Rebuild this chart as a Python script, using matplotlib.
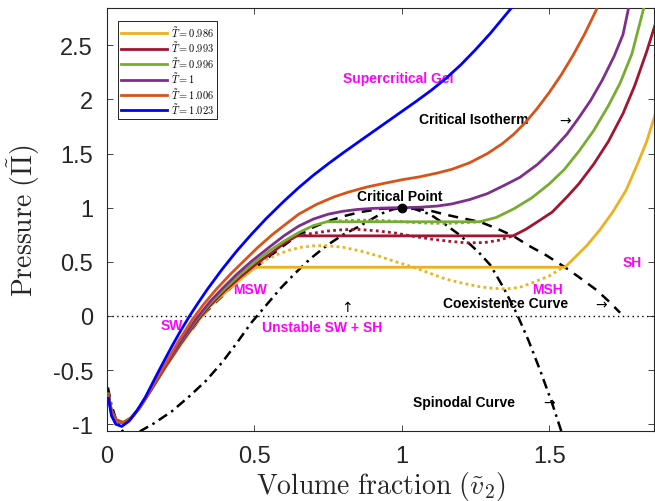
import matplotlib
matplotlib.use('Agg')
import matplotlib.pyplot as plt
from matplotlib.ticker import FuncFormatter

plt.rcParams['font.family'] = ['Liberation Sans', 'DejaVu Sans']
plt.rcParams['mathtext.fontset'] = 'cm'
plt.rcParams['axes.unicode_minus'] = False

# ── Isotherms (v2, Pi) ─────────────────────────────────────────
v_0986 = [0.005, 0.015, 0.03, 0.055, 0.08, 0.11, 0.15, 0.20, 0.25, 0.30, 0.35, 0.40,
          0.44, 0.475, 0.505, 1.553, 1.59, 1.627, 1.67, 1.715, 1.76, 1.797, 1.83, 1.86]
p_0986 = [-0.72, -0.87, -0.955, -0.98, -0.94, -0.85, -0.68, -0.47, -0.265, -0.075, 0.09, 0.215,
          0.31, 0.39, 0.45, 0.45, 0.55, 0.65, 0.79, 0.96, 1.16, 1.39, 1.61, 1.87]
v_0986_loop = [0.505, 0.54, 0.58, 0.62, 0.66, 0.70, 0.74, 0.80, 0.86, 0.925, 0.98, 1.04, 1.10,
               1.15, 1.21, 1.264, 1.31, 1.356, 1.40, 1.445, 1.50, 1.547]
p_0986_loop = [0.45, 0.52, 0.57, 0.61, 0.635, 0.648, 0.65, 0.635, 0.60, 0.55, 0.50, 0.45, 0.39,
               0.34, 0.30, 0.27, 0.255, 0.25, 0.265, 0.31, 0.37, 0.45]

v_0993 = [0.005, 0.015, 0.03, 0.055, 0.08, 0.11, 0.15, 0.20, 0.25, 0.30, 0.35, 0.40, 0.45,
          0.51, 0.56, 0.60, 0.644, 1.377, 1.42, 1.46, 1.51, 1.56, 1.60, 1.65, 1.70, 1.75,
          1.79, 1.83, 1.86]
p_0993 = [-0.73, -0.88, -0.96, -0.985, -0.945, -0.85, -0.68, -0.46, -0.255, -0.065, 0.10, 0.235,
          0.355, 0.49, 0.585, 0.67, 0.74, 0.74, 0.80, 0.87, 0.96, 1.10, 1.22, 1.40, 1.61, 1.87,
          2.13, 2.44, 2.70]
v_0993_loop = [0.644, 0.70, 0.75, 0.80, 0.85, 0.92, 0.98, 1.04, 1.10, 1.16, 1.22, 1.28, 1.33, 1.377]
p_0993_loop = [0.74, 0.765, 0.785, 0.797, 0.80, 0.785, 0.765, 0.735, 0.71, 0.69, 0.675, 0.678,
               0.70, 0.74]

v_0996 = [0.005, 0.015, 0.03, 0.055, 0.08, 0.11, 0.15, 0.20, 0.25, 0.30, 0.35, 0.40, 0.45,
          0.50, 0.55, 0.60, 0.65, 0.70, 0.745, 1.264, 1.32, 1.38, 1.44, 1.50, 1.55, 1.60, 1.65,
          1.70, 1.74, 1.78, 1.82]
p_0996 = [-0.73, -0.88, -0.96, -0.99, -0.95, -0.85, -0.68, -0.45, -0.24, -0.045, 0.12, 0.255,
          0.38, 0.495, 0.60, 0.69, 0.77, 0.835, 0.87, 0.87, 0.91, 0.99, 1.09, 1.22, 1.35, 1.52,
          1.71, 1.94, 2.15, 2.42, 2.84]
v_0996_loop = [0.745, 0.80, 0.85, 0.90, 0.95, 1.00, 1.05, 1.10, 1.15, 1.20, 1.264]
p_0996_loop = [0.87, 0.88, 0.885, 0.885, 0.88, 0.87, 0.862, 0.857, 0.855, 0.86, 0.87]

v_1000 = [0.005, 0.015, 0.03, 0.055, 0.08, 0.11, 0.15, 0.20, 0.25, 0.30, 0.35, 0.39, 0.44,
          0.49, 0.55, 0.60, 0.65, 0.70, 0.75, 0.80, 0.85, 0.90, 0.95, 1.00, 1.06, 1.12, 1.17,
          1.23, 1.29, 1.35, 1.40, 1.46, 1.51, 1.56, 1.60, 1.64, 1.68, 1.72, 1.75, 1.77]
p_1000 = [-0.73, -0.88, -0.96, -0.99, -0.95, -0.85, -0.68, -0.45, -0.235, -0.035, 0.135, 0.25,
          0.385, 0.505, 0.635, 0.74, 0.83, 0.895, 0.94, 0.967, 0.984, 0.993, 0.998, 1.0, 1.004,
          1.015, 1.035, 1.075, 1.13, 1.21, 1.28, 1.40, 1.53, 1.68, 1.83, 1.99, 2.18, 2.40, 2.60,
          2.86]

v_1006 = [0.005, 0.015, 0.03, 0.055, 0.08, 0.11, 0.15, 0.19, 0.24, 0.29, 0.33, 0.37, 0.42,
          0.465, 0.51, 0.56, 0.60, 0.65, 0.71, 0.77, 0.82, 0.88, 0.94, 1.00, 1.06, 1.12, 1.17,
          1.23, 1.29, 1.34, 1.38, 1.42, 1.46, 1.50, 1.54, 1.58, 1.62, 1.66]
p_1006 = [-0.74, -0.89, -0.97, -0.99, -0.95, -0.85, -0.67, -0.48, -0.245, -0.03, 0.115, 0.245,
          0.39, 0.51, 0.63, 0.75, 0.835, 0.94, 1.03, 1.10, 1.145, 1.19, 1.225, 1.258, 1.285,
          1.32, 1.355, 1.415, 1.50, 1.59, 1.68, 1.79, 1.92, 2.065, 2.225, 2.405, 2.605, 2.83]

v_1023 = [0.005, 0.015, 0.03, 0.05, 0.075, 0.10, 0.13, 0.175, 0.22, 0.25, 0.28, 0.31, 0.34,
          0.39, 0.44, 0.49, 0.54, 0.60, 0.65, 0.70, 0.75, 0.80, 0.87, 0.93, 0.99, 1.05, 1.10,
          1.15, 1.20, 1.25, 1.30, 1.37]
p_1023 = [-0.76, -0.92, -1.0, -1.02, -0.97, -0.88, -0.75, -0.51, -0.28, -0.135, 0.0, 0.125,
          0.245, 0.43, 0.60, 0.755, 0.90, 1.06, 1.185, 1.30, 1.405, 1.505, 1.64, 1.755, 1.87,
          1.985, 2.085, 2.195, 2.32, 2.46, 2.61, 2.84]

# coexistence (binodal) and spinodal loci
v_coex = [0.29, 0.322, 0.37, 0.42, 0.46, 0.505, 0.58, 0.644, 0.70, 0.745, 0.80, 0.86, 0.93,
          1.0, 1.05, 1.10, 1.15, 1.20, 1.264, 1.32, 1.377, 1.43, 1.49, 1.553, 1.60, 1.66,
          1.70, 1.74]
p_coex = [-0.12, 0.0, 0.13, 0.26, 0.36, 0.45, 0.61, 0.74, 0.82, 0.87, 0.92, 0.96, 0.99,
          1.0, 0.99, 0.97, 0.935, 0.905, 0.87, 0.81, 0.74, 0.65, 0.56, 0.45, 0.36, 0.24,
          0.14, 0.03]
v_spin = [0.003, 0.015, 0.03, 0.045, 0.06, 0.08, 0.10, 0.115, 0.16, 0.22, 0.28, 0.335, 0.39,
          0.44, 0.49, 0.54, 0.59, 0.64, 0.69, 0.745, 0.80, 0.85, 0.93, 0.97, 1.0, 1.04, 1.095,
          1.15, 1.19, 1.22, 1.26, 1.30, 1.345, 1.39, 1.43, 1.47, 1.51, 1.545]
p_spin = [-0.66, -0.82, -0.95, -1.03, -1.09, -1.12, -1.10, -1.06, -0.99, -0.88, -0.74, -0.60,
          -0.43, -0.25, -0.06, 0.10, 0.26, 0.40, 0.53, 0.65, 0.75, 0.82, 0.945, 0.985, 1.0, 0.99,
          0.94, 0.84, 0.76, 0.69, 0.59, 0.47, 0.26, 0.02, -0.23, -0.51, -0.81, -1.10]

crit_v, crit_p = 1.0, 1.0

temps = ['0.986', '0.993', '0.996', '1', '1.006', '1.023']
colors = ['#EDB120', '#A2142F', '#77AC30', '#7E2F8E', '#D95319', '#0000FF']
curves = [(v_0986, p_0986), (v_0993, p_0993), (v_0996, p_0996),
          (v_1000, p_1000), (v_1006, p_1006), (v_1023, p_1023)]
loops = [(v_0986_loop, p_0986_loop), (v_0993_loop, p_0993_loop), (v_0996_loop, p_0996_loop)]

AX_COL = '#262626'
MAG = '#FF00FF'

fig = plt.figure(figsize=(6.55, 5.02), dpi=100)
ax = fig.add_axes([107 / 655, 70 / 502, 547 / 655, 423 / 502])

ax.axhline(0, color='black', lw=1.0, ls=(0, (1, 2.5)), zorder=1)
ax.plot(v_coex, p_coex, color='black', lw=1.8, ls=(0, (4, 3)), zorder=2)
ax.plot(v_spin, p_spin, color='black', lw=1.8, ls=(0, (4, 2, 1, 2)), zorder=2)

for (v, p), col in zip(loops, colors[:3]):
    ax.plot(v, p, color=col, lw=2.0, ls=(0, (1, 1.2)), zorder=3)
for (v, p), col, t in zip(curves, colors, temps):
    ax.plot(v, p, color=col, lw=2.0, zorder=4, label=r'$\tilde{T} = %s$' % t)

ax.plot([crit_v], [crit_p], 'o', color='black', ms=6, zorder=6)

# annotations
bold = dict(fontsize=10, fontweight='bold', va='center', ha='left')
ax.text(0.80, 2.20, 'Supercritical Gel', color=MAG, **bold)
ax.text(1.058, 1.82, 'Critical Isotherm', color='black', **bold)
ax.text(0.847, 1.11, 'Critical Point', color='black', **bold)
ax.text(0.427, 0.25, 'MSW', color=MAG, **bold)
ax.text(0.18, -0.08, 'SW', color=MAG, **bold)
ax.text(0.525, -0.10, 'Unstable SW + SH', color=MAG, **bold)
ax.text(1.44, 0.25, 'MSH', color=MAG, **bold)
ax.text(1.75, 0.50, 'SH', color=MAG, **bold)
ax.text(1.14, 0.12, 'Coexistence Curve', color='black', **bold)
ax.text(1.037, -0.79, 'Spinodal Curve', color='black', **bold)
arrow = dict(fontsize=10, va='center', ha='center', color='black', family='DejaVu Sans')
ax.text(1.555, 1.81, '\u2192', **arrow)
ax.text(1.675, 0.11, '\u2192', **arrow)
ax.text(1.50, -0.80, '\u2192', **arrow)
ax.text(0.813, 0.085, '\u2191', **arrow)

ax.set_xlim(0, 1.855)
ax.set_ylim(-1.062, 2.844)
ax.set_xticks([0, 0.5, 1, 1.5])
ax.set_yticks([-1, -0.5, 0, 0.5, 1, 1.5, 2, 2.5])
fmt = FuncFormatter(lambda val, pos: f'{val:g}')
ax.xaxis.set_major_formatter(fmt)
ax.yaxis.set_major_formatter(fmt)
ax.tick_params(direction='in', length=4, width=0.6, colors=AX_COL, labelsize=17,
               top=True, right=True)
ax.tick_params(axis='x', pad=10)
ax.tick_params(axis='y', pad=10)
for sp in ax.spines.values():
    sp.set_color(AX_COL)
    sp.set_linewidth(0.8)

ax.set_xlabel(r'$\mathrm{Volume\ fraction}\ (\tilde{v}_2)$', fontsize=20, color=AX_COL)
ax.set_ylabel(r'$\mathrm{Pressure}\ (\tilde{\Pi})$', fontsize=20, color=AX_COL)
ax.xaxis.set_label_coords(0.5, -0.09)
ax.yaxis.set_label_coords(-0.118, 0.5)

leg = ax.legend(loc='upper left', bbox_to_anchor=(0.0201, 0.969), borderaxespad=0,
                fontsize=7.5, handlelength=4.4, handletextpad=0.35, labelspacing=0.05,
                borderpad=0.3, fancybox=False, framealpha=1, edgecolor='black')
leg.get_frame().set_linewidth(0.6)

fig.savefig('out.png', dpi=100)
